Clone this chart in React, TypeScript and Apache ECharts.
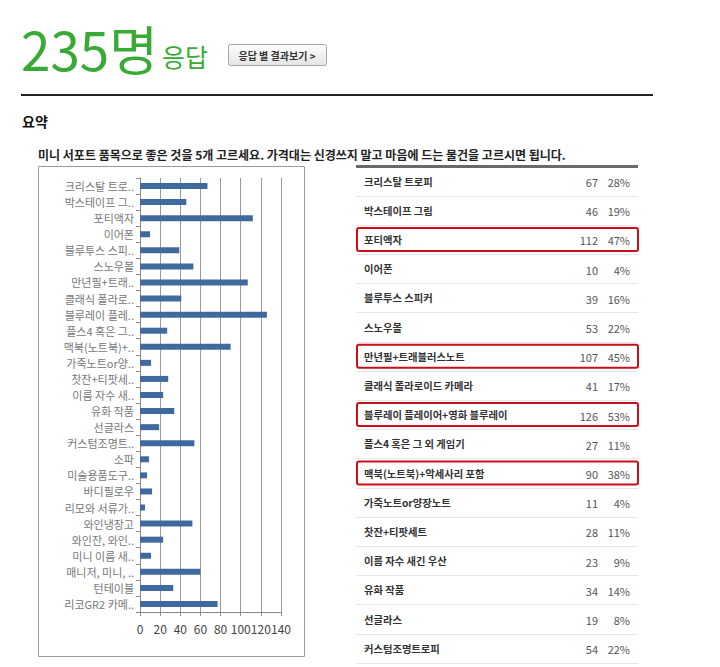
import React, { useEffect, useRef } from "react";
import * as echarts from "echarts";

const respondents = "235";
const questionText =
  "미니 서포트 품목으로 좋은 것을 5개 고르세요. 가격대는 신경쓰지 말고 마음에 드는 물건을 고르시면 됩니다.";

const barLabels = [
  "크리스탈 트로..",
  "박스테이프 그..",
  "포티액자",
  "이어폰",
  "블루투스 스피..",
  "스노우볼",
  "만년필+트래..",
  "클래식 폴라로..",
  "블루레이 플레..",
  "플스4 혹은 그..",
  "맥북(노트북)+..",
  "가죽노트or양..",
  "찻잔+티팟세..",
  "이름 자수 새..",
  "유화 작품",
  "선글라스",
  "커스텀조명트..",
  "소파",
  "미술용품도구..",
  "바디필로우",
  "리모와 서류가..",
  "와인냉장고",
  "와인잔, 와인..",
  "미니 이름 새..",
  "매니저, 미니, ..",
  "턴테이블",
  "리코GR2 카메..",
];
const barValues = [67, 46, 112, 10, 39, 53, 107, 41, 126, 27, 90, 11, 28, 23, 34, 19, 54, 9, 7, 12, 5, 52, 23, 11, 60, 33, 77];

const xTickMin = 0;
const xTickMax = 140;
const xTickStep = 20;

const tableNames = [
  "크리스탈 트로피",
  "박스테이프 그림",
  "포티액자",
  "이어폰",
  "블루투스 스피커",
  "스노우볼",
  "만년필+트래블러스노트",
  "클래식 폴라로이드 카메라",
  "블루레이 플레이어+영화 블루레이",
  "플스4 혹은 그 외 게임기",
  "맥북(노트북)+악세사리 포함",
  "가죽노트or양장노트",
  "찻잔+티팟세트",
  "이름 자수 새긴 우산",
  "유화 작품",
  "선글라스",
  "커스텀조명트로피",
];
const tableCounts = [67, 46, 112, 10, 39, 53, 107, 41, 126, 27, 90, 11, 28, 23, 34, 19, 54];
const tablePercents = ["28%", "19%", "47%", "4%", "16%", "22%", "45%", "17%", "53%", "11%", "38%", "4%", "11%", "9%", "14%", "8%", "22%"];
const highlightedRows = [2, 6, 8, 10];

const FONT = "'Noto Sans CJK KR', 'Noto Sans', sans-serif";

export default function App() {
  const ref = useRef<HTMLDivElement>(null);

  useEffect(() => {
    if (!ref.current) return;
    const chart = echarts.init(ref.current, null, { renderer: "svg" });

    const rowTop = 181;
    const rowStep = 29.2;
    const tableLeft = 356;
    const tableRight = 640;

    const graphics: any[] = [];

    // Header
    graphics.push({
      type: "text",
      style: { text: respondents + "명", x: 21, y: 74, textVerticalAlign: "bottom", verticalAlign: "bottom", fill: "#3aaa36", fontSize: 53, fontFamily: FONT },
    });
    graphics.push({
      type: "text",
      style: { text: "응답", x: 162, y: 69, textVerticalAlign: "bottom", verticalAlign: "bottom", fill: "#3aaa36", fontSize: 25, fontFamily: FONT },
    });
    graphics.push({
      type: "rect",
      shape: { x: 228.5, y: 44.5, width: 98, height: 21, r: 2 },
      style: {
        fill: new echarts.graphic.LinearGradient(0, 0, 0, 1, [
          { offset: 0, color: "#ffffff" },
          { offset: 1, color: "#e4e4e4" },
        ]),
        stroke: "#a8a8a8",
        lineWidth: 1,
      },
    });
    graphics.push({
      type: "text",
      style: { text: "응답 별 결과보기 >", x: 277, y: 55.5, textAlign: "center", align: "center", textVerticalAlign: "middle", verticalAlign: "middle", fill: "#333", fontSize: 10, fontWeight: "bold", fontFamily: FONT },
    });
    graphics.push({
      type: "rect",
      shape: { x: 21, y: 94, width: 632, height: 2 },
      style: { fill: "#222" },
    });
    graphics.push({
      type: "text",
      style: { text: "요약", x: 22, y: 121, textVerticalAlign: "middle", verticalAlign: "middle", fill: "#111", fontSize: 14, fontWeight: "bold", fontFamily: FONT },
    });
    graphics.push({
      type: "text",
      style: { text: questionText, x: 38, y: 154, textVerticalAlign: "middle", verticalAlign: "middle", fill: "#222", fontSize: 12, fontWeight: "bold", fontFamily: FONT },
    });

    // Chart box
    graphics.push({
      type: "rect",
      z: -10,
      shape: { x: 38.5, y: 166.5, width: 266, height: 490 },
      style: { fill: "none", stroke: "#9a9a9a", lineWidth: 1 },
    });

    // Table
    graphics.push({
      type: "rect",
      shape: { x: tableLeft, y: 165, width: tableRight - tableLeft - 2, height: 3 },
      style: { fill: "#6a6a6a" },
    });
    tableNames.forEach((name, i) => {
      const cy = rowTop + rowStep * i;
      graphics.push({
        type: "text",
        style: { text: name, x: 364, y: cy, textVerticalAlign: "middle", verticalAlign: "middle", fill: "#333", fontSize: 10.3, fontWeight: "bold", fontFamily: FONT },
      });
      graphics.push({
        type: "text",
        style: { text: String(tableCounts[i]), x: 598, y: cy + 1, textAlign: "right", align: "right", textVerticalAlign: "middle", verticalAlign: "middle", fill: "#555", fontSize: 11, fontFamily: FONT },
      });
      graphics.push({
        type: "text",
        style: { text: tablePercents[i], x: 630, y: cy + 1, textAlign: "right", align: "right", textVerticalAlign: "middle", verticalAlign: "middle", fill: "#555", fontSize: 11, fontFamily: FONT },
      });
      const sepY = Math.round(cy + rowStep / 2) + 0.5;
      graphics.push({
        type: "line",
        shape: { x1: tableLeft, y1: sepY, x2: tableRight - 2, y2: sepY },
        style: { stroke: "#e6e6e6", lineWidth: 1 },
      });
      if (highlightedRows.includes(i)) {
        graphics.push({
          type: "rect",
          shape: { x: tableLeft + 1, y: cy - 11.5, width: tableRight - tableLeft - 3, height: 23, r: 2 },
          style: { fill: "none", stroke: "#c8101a", lineWidth: 2 },
        });
      }
    });

    const option: any = {
      animation: false,
      backgroundColor: "#ffffff",
      textStyle: { fontFamily: FONT },
      grid: { left: 140, top: 178, width: 141, height: 434, containLabel: false },
      xAxis: {
        type: "value",
        min: xTickMin,
        max: xTickMax,
        interval: xTickStep,
        axisLine: { show: true, lineStyle: { color: "#8a8a8a", width: 1 } },
        axisTick: { show: true, length: 4, lineStyle: { color: "#8a8a8a" } },
        splitLine: { show: true, lineStyle: { color: "#9a9a9a", width: 1 } },
        axisLabel: { color: "#444", fontSize: 12, margin: 10, fontFamily: FONT },
      },
      yAxis: {
        type: "category",
        data: barLabels,
        inverse: true,
        axisLine: { show: true, lineStyle: { color: "#8a8a8a", width: 1 } },
        axisTick: { show: true, length: 4, lineStyle: { color: "#8a8a8a" } },
        axisLabel: { color: "#777", fontSize: 11, margin: 6, fontFamily: FONT },
      },
      series: [
        {
          type: "bar",
          data: barValues,
          barWidth: 6,
          itemStyle: { color: "#3e6a9e" },
        },
      ],
      graphic: graphics,
    };

    chart.setOption(option);
    return () => chart.dispose();
  }, []);

  return (
    <div
      ref={ref}
      style={{ position: "absolute", left: 0, top: 0, width: 720, height: 667, background: "#fff" }}
    />
  );
}
